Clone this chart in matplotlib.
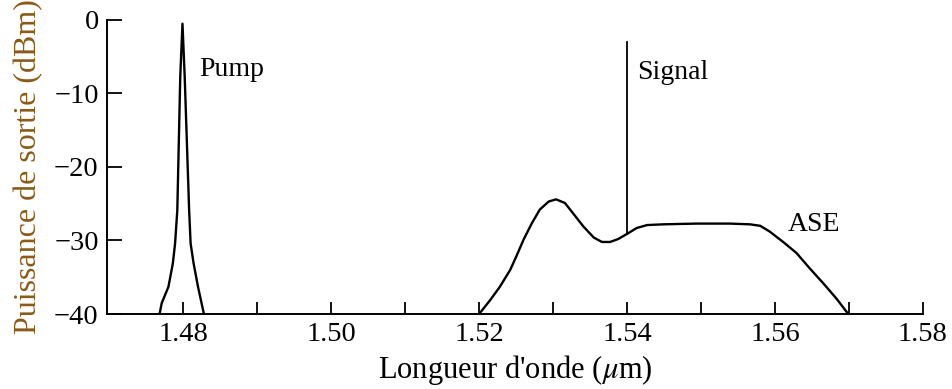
import matplotlib.pyplot as plt
import numpy as np

plt.rcParams['font.family'] = ['Liberation Serif', 'DejaVu Serif']
plt.rcParams['mathtext.fontset'] = 'stix'

# pump peak (um, dBm)
pump_x = [1.4768, 1.4771, 1.4780, 1.4786, 1.4789, 1.4792, 1.4794, 1.4796, 1.4799,
          1.4802, 1.4805, 1.4808, 1.4810, 1.4814, 1.4820, 1.4828]
pump_y = [-40, -38.5, -36.3, -33.1, -30.4, -25.9, -16.8, -7.7, -0.5,
          -7.7, -16.8, -25.9, -30.4, -33.1, -36.3, -40]

# ASE spectrum
ase_x = [1.5200, 1.5215, 1.5228, 1.5242, 1.5251, 1.5260, 1.5271, 1.5282, 1.5294,
         1.5304, 1.5316, 1.5327, 1.5341, 1.5355, 1.5366, 1.5377, 1.5388, 1.5400,
         1.5413, 1.5427, 1.5449, 1.5494, 1.5539, 1.5566, 1.5580, 1.5593, 1.5611,
         1.5629, 1.5647, 1.5665, 1.5683, 1.5699]
ase_y = [-40, -38.1, -36.3, -34.0, -32.0, -29.9, -27.7, -25.8, -24.7,
         -24.4, -24.9, -26.3, -28.1, -29.6, -30.2, -30.2, -29.8, -29.1,
         -28.3, -27.9, -27.8, -27.7, -27.7, -27.8, -28.0, -28.8, -30.2,
         -31.7, -33.8, -35.8, -37.9, -40]

signal_x = 1.54
signal_top = -3.0
signal_base = -29.1

fig = plt.figure(figsize=(9.53, 3.89), dpi=100)
ax = fig.add_axes([0.1123, 0.1928, 0.8562, 0.7558])

ax.plot(pump_x, pump_y, color='black', lw=1.7, solid_joinstyle='round')
ax.plot(ase_x, ase_y, color='black', lw=1.7, solid_joinstyle='round')
ax.plot([signal_x, signal_x], [signal_base, signal_top], color='black', lw=1.3)

ax.text(1.4822, -6.8, 'Pump', fontsize=20, va='center', ha='left')
ax.text(1.5414, -7.1, 'Signal', fontsize=20, va='center', ha='left')
ax.text(1.5617, -27.8, 'ASE', fontsize=20, va='center', ha='left')

ax.set_xlim(1.4697, 1.58)
ax.set_ylim(-40, 0)
ax.set_xticks(np.arange(1.48, 1.581, 0.02))
ax.set_xticklabels(['1.48', '1.50', '1.52', '1.54', '1.56', '1.58'])
ax.set_xticks(np.arange(1.49, 1.58, 0.02), minor=True)
ax.set_yticks([-40, -30, -20, -10, 0])
ax.set_yticklabels(['\u221240', '\u221230', '\u221220', '\u221210', '0'])

ax.tick_params(which='both', direction='in', length=11, width=1.3, labelsize=20.5, pad=6)
ax.tick_params(axis='x', which='both', length=9)

for s in ['top', 'right']:
    ax.spines[s].set_visible(False)
for s in ['left', 'bottom']:
    ax.spines[s].set_linewidth(1.4)

ax.set_xlabel("Longueur d'onde ($\\mu$m)", fontsize=22, labelpad=4)
ax.set_ylabel('Puissance de sortie (dBm)', fontsize=23, color='#8a5a1a', labelpad=8)

plt.savefig('out.png', dpi=100)
